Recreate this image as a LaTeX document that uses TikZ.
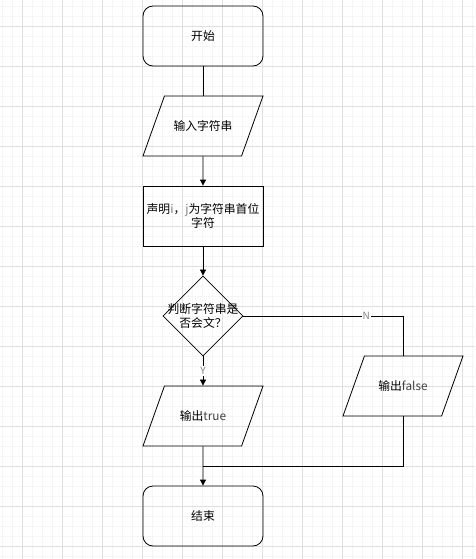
\documentclass[tikz,border=0pt]{standalone}
\usepackage{fontspec}
\newfontfamily\cjk{Noto Sans CJK SC}
\usepackage{tikz}
\usetikzlibrary{shapes.geometric,positioning,arrows.meta}

\begin{document}
\begin{tikzpicture}[shorten >=0pt,node distance=90pt,on grid,>={Triangle[width=6pt,length=6pt]},line width=0.8pt,
    every node/.style={font=\cjk\fontsize{11.8}{14}\selectfont},
    endbox/.style={draw,rounded corners=10pt,minimum width=120pt,minimum height=60pt},
    procbox/.style={draw,minimum width=120pt,minimum height=60pt,align=center,inner sep=1pt},
    iobox/.style={draw,trapezium,trapezium left angle=70,trapezium right angle=110,
      trapezium stretches body,inner ysep=24pt,minimum width=120pt,minimum height=60pt},
    testbox/.style={draw,diamond,minimum width=80pt,minimum height=80pt,inner sep=0pt},
    lbl/.style={fill=white,text=gray,inner sep=1pt,anchor=center,pos=0.5,font=\cjk\fontsize{10}{12}\selectfont}]
  % background grid
  \useasboundingbox (0,0) rectangle (475pt,-559pt);
  \draw[step=10pt,gray!8,line width=0.4pt,shift={(2pt,-6pt)}] (-2pt,6pt) grid (473pt,-553pt);
  \draw[step=40pt,gray!25,line width=0.4pt,shift={(22pt,-26pt)}] (-22pt,26pt) grid (453pt,-533pt);

    \node[endbox] (start) at (203pt,-36pt) {开始};
    \node[iobox] (in) [below=of start] {输入字符串};
    \node[procbox] (decl) [below=of in] {声明{\color{gray}i}，{\color{gray}j}为字符串首位\\字符};
    \node[testbox] (test) [below=100pt of decl]
      [label={[align=center]center:判断字符串是\\否会文？}] {};
    \node[iobox] (out_t) [below=100pt of test] {输出{\color{darkgray}true}};
    \node[iobox] (out_f) [below right=70pt and 200pt of test] {输出{\color{darkgray}false}};
    \node[endbox] (fin) [below=100pt of out_t] {结束};
    \coordinate (m) at ([yshift=-50pt]out_t.center);
			\path[->]
          (in) edge (decl)
          (decl) edge (test)
          (test) edge node [lbl] {Y} (out_t)
          (out_t) edge (fin);
      \draw (start) -- (in);
      \draw (test) -| node [lbl, pos=0.385] {N} (out_f);
      \draw (out_f) |- (m);
  \end{tikzpicture}
\end{document}
